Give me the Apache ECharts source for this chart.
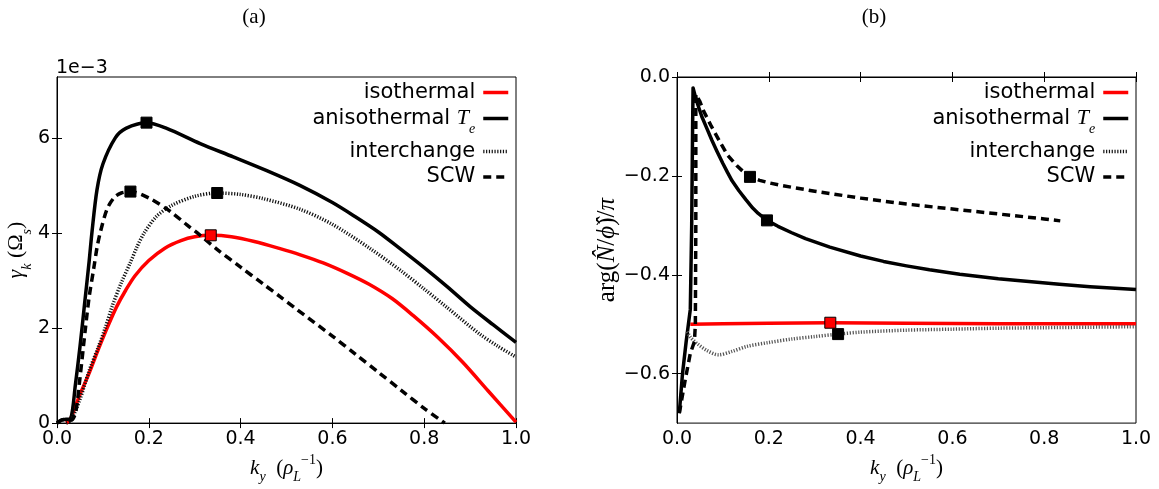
<!DOCTYPE html>
<html>
<head>
<meta charset="utf-8">
<script src="https://cdn.jsdelivr.net/npm/echarts@6/dist/echarts.min.js"></script>
<style>html,body{margin:0;padding:0;background:#fff}#c{width:1159px;height:489px}</style>
</head>
<body>
<div id="c"></div>
<script>
// ---------- DATA (panel a: growth rate, units of 1e-3) ----------
const xTicks = [0.0, 0.2, 0.4, 0.6, 0.8, 1.0];
const yTicksA = [0, 2, 4, 6];
const yTicksB = [-0.6, -0.4, -0.2, 0.0];
const seriesNames = ['isothermal', 'anisothermal', 'interchange', 'SCW'];

const isoA = [[0.02,0],[0.03,0.1],[0.04,0.35],[0.05,0.6],[0.07,1.05],[0.09,1.55],[0.11,2.02],[0.13,2.45],[0.15,2.8],[0.17,3.1],[0.2,3.42],[0.235,3.68],[0.27,3.84],[0.3,3.92],[0.335,3.95],[0.38,3.92],[0.43,3.82],[0.486,3.67],[0.53,3.54],[0.58,3.37],[0.63,3.16],[0.68,2.92],[0.73,2.62],[0.775,2.27],[0.83,1.8],[0.884,1.28],[0.94,0.67],[1.0,0.02]];
const anisoA = [[0,0],[0.01,0.07],[0.02,0.08],[0.03,0.1],[0.04,0.8],[0.05,1.6],[0.06,2.5],[0.07,3.4],[0.076,4.0],[0.087,4.9],[0.1,5.45],[0.127,6.0],[0.15,6.2],[0.195,6.32],[0.239,6.2],[0.312,5.88],[0.384,5.6],[0.457,5.31],[0.529,5.0],[0.6,4.64],[0.65,4.34],[0.7,4.02],[0.746,3.68],[0.8,3.27],[0.85,2.87],[0.9,2.45],[0.95,2.07],[1.0,1.7]];
const interA = [[0.02,0],[0.03,0.05],[0.05,0.5],[0.07,1.1],[0.09,1.6],[0.105,2.0],[0.12,2.45],[0.14,2.95],[0.16,3.38],[0.174,3.7],[0.19,4.0],[0.217,4.35],[0.25,4.58],[0.3,4.77],[0.349,4.84],[0.4,4.81],[0.45,4.72],[0.529,4.5],[0.6,4.18],[0.681,3.68],[0.75,3.2],[0.8,2.82],[0.85,2.43],[0.92,1.88],[0.96,1.62],[1.0,1.39]];
const scwA = [[0,0],[0.01,0.06],[0.02,0.08],[0.03,0.06],[0.04,0.2],[0.05,0.95],[0.062,2.0],[0.07,2.65],[0.08,3.25],[0.087,3.68],[0.094,4.0],[0.109,4.5],[0.125,4.75],[0.14,4.84],[0.16,4.87],[0.203,4.72],[0.247,4.45],[0.283,4.17],[0.312,3.95],[0.348,3.66],[0.4,3.28],[0.45,2.92],[0.486,2.66],[0.52,2.41],[0.6,1.83],[0.65,1.45],[0.7,1.07],[0.75,0.69],[0.8,0.31],[0.845,0]];
const peaksA = {iso:[0.335,3.95], aniso:[0.195,6.32], inter:[0.349,4.84], scw:[0.16,4.87]};

// ---------- DATA (panel b: phase, units of pi) ----------
const isoB = [[0.029,-0.5],[0.1,-0.499],[0.2,-0.498],[0.334,-0.497],[0.5,-0.498],[0.7,-0.499],[1.0,-0.499]];
const anisoB = [[0.005,-0.68],[0.012,-0.6],[0.02,-0.535],[0.029,-0.47],[0.032,-0.3],[0.034,-0.1],[0.035,-0.022],[0.04,-0.04],[0.045,-0.055],[0.054,-0.08],[0.065,-0.104],[0.076,-0.128],[0.087,-0.15],[0.1,-0.175],[0.11,-0.193],[0.12,-0.21],[0.135,-0.23],[0.15,-0.248],[0.165,-0.265],[0.177,-0.276],[0.196,-0.29],[0.22,-0.302],[0.25,-0.315],[0.28,-0.327],[0.333,-0.344],[0.4,-0.362],[0.45,-0.373],[0.5,-0.382],[0.55,-0.39],[0.616,-0.399],[0.7,-0.408],[0.833,-0.419],[0.9,-0.424],[1.0,-0.43]];
const interB = [[0.022,-0.515],[0.03,-0.527],[0.045,-0.54],[0.065,-0.553],[0.09,-0.562],[0.12,-0.555],[0.152,-0.545],[0.2,-0.537],[0.25,-0.53],[0.3,-0.525],[0.351,-0.52],[0.4,-0.516],[0.5,-0.512],[0.6,-0.51],[0.7,-0.508],[0.8,-0.507],[0.9,-0.506],[1.0,-0.505]];
const scwB = [[0.005,-0.68],[0.018,-0.612],[0.029,-0.559],[0.038,-0.535],[0.04,-0.5],[0.041,-0.3],[0.041,-0.08],[0.041,-0.035],[0.044,-0.035],[0.05,-0.05],[0.058,-0.069],[0.075,-0.1],[0.094,-0.132],[0.11,-0.158],[0.13,-0.179],[0.145,-0.192],[0.159,-0.202],[0.18,-0.209],[0.2,-0.214],[0.225,-0.219],[0.3,-0.231],[0.4,-0.245],[0.5,-0.257],[0.6,-0.267],[0.7,-0.277],[0.8,-0.287],[0.835,-0.291]];
const peaksB = {iso:[0.334,-0.497], aniso:[0.196,-0.29], inter:[0.351,-0.52], scw:[0.159,-0.202]};

// ---------- CHART ----------
const chart = echarts.init(document.getElementById('c'), null, {renderer:'canvas'});
const SANS = 'DejaVu Sans';
const SERIF = 'Liberation Serif';
const minus = s => String(s).replace('-', '\u2212');

const grids = [
  {left:57, top:77, width:459, height:350, show:true, borderColor:'#000', borderWidth:1},
  {left:677, top:77, width:459, height:350, show:true, borderColor:'#000', borderWidth:1}
];

function xAx(g, pos){
  const bottom = pos === 'bottom';
  return {
    type:'value', gridIndex:g, position:pos, min:0, max:1, interval:0.2,
    axisLine:{show:true, lineStyle:{color:'#000', width:1}},
    axisTick:{show:true, inside:true, length:5, lineStyle:{color:'#000'}},
    splitLine:{show:false},
    axisLabel:{show:bottom, color:'#000', fontFamily:SANS, fontSize:19, margin:6,
      formatter: v => minus(v.toFixed(1))},
    name: bottom ? '{i|k}{s|y}{n|  (}{i|ρ}{s|L}{p|−1}{n|)}' : '',
    nameLocation:'middle', nameGap:30,
    nameTextStyle:{rich:{
      i:{fontFamily:SERIF, fontStyle:'italic', fontSize:21, color:'#000', lineHeight:26, verticalAlign:'middle'},
      n:{fontFamily:SERIF, fontSize:21, color:'#000', lineHeight:26, verticalAlign:'middle'},
      s:{fontFamily:SERIF, fontStyle:'italic', fontSize:14, color:'#000', lineHeight:26, verticalAlign:'bottom', padding:[0,0,-3,0]},
      p:{fontFamily:SERIF, fontSize:14, color:'#000', lineHeight:26, verticalAlign:'top', padding:[-2,0,0,0]}
    }}
  };
}

function yAx(g, pos, cfg){
  const left = pos === 'left';
  return Object.assign({
    type:'value', gridIndex:g, position:pos,
    axisLine:{show:true, lineStyle:{color:'#000', width:1}},
    axisTick:{show:true, inside:true, length:5, lineStyle:{color:'#000'}, customValues:cfg.ticks},
    splitLine:{show:false},
    axisLabel:{show:left, color:'#000', fontFamily:SANS, fontSize:19, margin:7, customValues:cfg.ticks,
      formatter: cfg.fmt},
    nameLocation:'middle', nameRotate:90
  }, cfg.extra);
}

const richY = {
  i:{fontFamily:SERIF, fontStyle:'italic', fontSize:22, color:'#000', lineHeight:26},
  r:{fontFamily:SERIF, fontSize:22, color:'#000', lineHeight:26},
  s:{fontFamily:SERIF, fontStyle:'italic', fontSize:14, color:'#000', lineHeight:26, verticalAlign:'bottom', padding:[0,0,-5,0]}
};
const richY2 = {
  i:{fontFamily:SERIF, fontStyle:'italic', fontSize:25, color:'#000', lineHeight:30},
  r:{fontFamily:SERIF, fontSize:25, color:'#000', lineHeight:30}
};

const yAxes = [
  yAx(0,'left',{ticks:yTicksA, fmt: v => String(Math.round(v)), extra:{min:0, max:7.28,
    name:'{i|γ}{s|k}{r| (Ω}{s|s}{r|)}', nameGap:22, nameTextStyle:{rich:richY}}}),
  yAx(0,'right',{ticks:yTicksA, fmt: v => '', extra:{min:0, max:7.28}}),
  yAx(1,'left',{ticks:yTicksB, fmt: v => minus(v.toFixed(1)), extra:{min:-0.7, max:0,
    name:'{r|arg(}{i|N\u0302}{r|/}{i|\u03d5\u0302}{r|)/}{i|π}', nameGap:50, nameTextStyle:{rich:richY2}}}),
  yAx(1,'right',{ticks:yTicksB, fmt: v => '', extra:{min:-0.7, max:0}})
];

const styles = {
  isothermal:  {color:'#ff0000', width:3.5, type:'solid'},
  anisothermal:{color:'#000000', width:3.5, type:'solid'},
  interchange: {color:'#111111', width:3.5, type:[1.2,1.6]},
  SCW:         {color:'#000000', width:3.5, type:[8,5]}
};

function lineS(name, data, xi, yi, smooth, color){
  const st = styles[name];
  return {
    type:'line', name:name, data:data, xAxisIndex:xi, yAxisIndex:yi,
    showSymbol:false, symbol:'none', symbolSize:0, smooth:smooth, clip:true,
    lineStyle:{color: color || st.color, width:st.width, type:st.type, cap:'butt', join:'round'},
    itemStyle:{color: color || st.color},
    emphasis:{disabled:true}, silent:true, animation:false
  };
}
function markS(name, pt, xi, yi, color){
  return {
    type:'scatter', name:name, data:[pt], xAxisIndex:xi, yAxisIndex:yi,
    symbol:'rect', symbolSize:11, z:5,
    itemStyle:{color:color, borderColor:'#000', borderWidth:1, opacity:1},
    emphasis:{disabled:true}, silent:true, animation:false
  };
}

const series = [
  lineS('isothermal', isoA, 0, 0, 0.3),
  lineS('anisothermal', anisoA, 0, 0, 0.3),
  lineS('interchange', interA, 0, 0, 0.3),
  lineS('SCW', scwA, 0, 0, 0.3),
  markS('pkA1', peaksA.aniso, 0, 0, '#000'),
  markS('pkA2', peaksA.scw, 0, 0, '#000'),
  markS('pkA3', peaksA.inter, 0, 0, '#000'),
  markS('pkA4', peaksA.iso, 0, 0, '#ff0000'),
  lineS('isothermal', isoB, 2, 2, false),
  lineS('anisothermal', anisoB, 2, 2, false),
  lineS('interchange', interB, 2, 2, 0.3, '#555555'),
  lineS('SCW', scwB, 2, 2, false),
  markS('pkB1', peaksB.aniso, 2, 2, '#000'),
  markS('pkB2', peaksB.scw, 2, 2, '#000'),
  markS('pkB3', peaksB.inter, 2, 2, '#000'),
  markS('pkB4', peaksB.iso, 2, 2, '#ff0000')
];

const legendRich = {
  a:{fontFamily:SANS, fontSize:21, color:'#000', lineHeight:24},
  t:{fontFamily:SERIF, fontStyle:'italic', fontSize:22, color:'#000', lineHeight:24},
  e:{fontFamily:SERIF, fontStyle:'italic', fontSize:14, color:'#000', lineHeight:24, verticalAlign:'bottom', padding:[0,0,-6,0]}
};
function legendFmt(name){
  return name === 'anisothermal' ? '{a|anisothermal }{t|T}{e|e}' : '{a|' + name + '}';
}
function legend(right){
  return {
    data: seriesNames, orient:'vertical', right:right, top:77, align:'right',
    itemWidth:25, itemHeight:10, itemGap:4.5, selectedMode:false,
    formatter: legendFmt,
    itemStyle:{opacity:0, borderWidth:0},
    lineStyle:{width:3.5},
    textStyle:{fontFamily:SANS, fontSize:21, color:'#000', rich:legendRich, padding:[0,3,0,0]},
    inactiveColor:'#000'
  };
}

chart.setOption({
  animation:false,
  backgroundColor:'#fff',
  title:[
    {text:'(a)', left:249, top:2, textAlign:'center', textStyle:{fontFamily:SERIF, fontWeight:'normal', fontSize:21, color:'#000'}},
    {text:'(b)', left:869, top:2, textAlign:'center', textStyle:{fontFamily:SERIF, fontWeight:'normal', fontSize:21, color:'#000'}}
  ],
  grid: grids,
  xAxis:[xAx(0,'bottom'), xAx(0,'top'), xAx(1,'bottom'), xAx(1,'top')],
  yAxis: yAxes,
  legend:[legend(1159-515), legend(1159-1135)],
  graphic:[
    {type:'text', left:56, top:59, style:{text:'1e\u22123', font:'19px "DejaVu Sans"', fill:'#000'}}
  ],
  series: series
});
</script>
</body>
</html>
